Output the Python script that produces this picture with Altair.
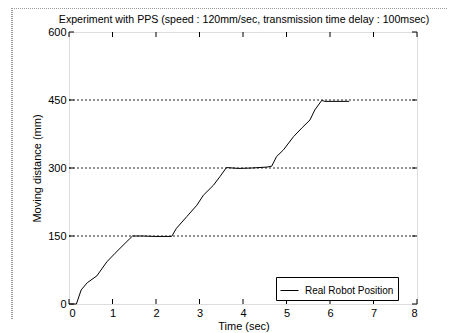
import altair as alt
import pandas as pd

# data
time_s = [0, 0.17, 0.28, 0.42, 0.64, 0.87, 1.06, 1.29, 1.46, 1.7, 1.97, 2.36, 2.47, 2.71, 2.94,
          3.09, 3.32, 3.47, 3.62, 3.9, 4.2, 4.55, 4.66, 4.77, 4.93, 5.16, 5.35, 5.54, 5.65,
          5.81, 5.88, 6.44]
dist_mm = [0, 0, 31, 47, 62, 93, 112, 134, 150, 150, 149, 149, 167, 193, 218,
           240, 262, 281, 301, 299, 300, 302, 304, 325, 340, 369, 388, 406, 428,
           449, 447, 447]
series_name = "Real Robot Position"
title_text = "Experiment with PPS (speed : 120mm/sec, transmission time delay : 100msec)"
x_title = "Time (sec)"
x_ticks = [0, 1, 2, 3, 4, 5, 6, 7, 8]
y_ticks = [0, 150, 300, 450, 600]
grid_vals = [150, 300, 450]

W, H = 348, 272
FONT = "Liberation Sans"

df = pd.DataFrame({"t": time_s, "d": dist_mm, "s": series_name})
xt = pd.DataFrame({"t": x_ticks})
yt = pd.DataFrame({"d": y_ticks})
gv = pd.DataFrame({"d": grid_vals})
tt = pd.DataFrame({"title": [title_text]})
xtt = pd.DataFrame({"title": [x_title]})

xs = alt.Scale(domain=[0, 8], nice=False, zero=False)
ys = alt.Scale(domain=[0, 600], nice=False)

grid = alt.Chart(gv).mark_rule(color="black", strokeDash=[2, 2], strokeWidth=1, opacity=0.85).encode(
    y=alt.Y("d:Q", scale=ys), x=alt.value(0), x2=alt.value(W)
)

line = alt.Chart(df).mark_line(strokeWidth=1).encode(
    x=alt.X("t:Q", scale=xs, title=None,
            axis=alt.Axis(values=x_ticks, ticks=False, grid=False, labelFontSize=11,
                          labelPadding=3, domain=False)),
    y=alt.Y("d:Q", scale=ys, title="Moving distance (mm)",
            axis=alt.Axis(values=y_ticks, ticks=False, grid=False, labelFontSize=11,
                          labelPadding=3, titleFontSize=11, titlePadding=5,
                          titleFontWeight="normal", domain=False)),
    color=alt.Color("s:N", scale=alt.Scale(range=["black"]), title=None,
                    legend=alt.Legend(orient="none", legendX=207, legendY=245,
                                      symbolType="stroke", symbolSize=324,
                                      symbolStrokeWidth=1, labelFontSize=10,
                                      labelOffset=6,
                                      fillColor="white", strokeColor="black",
                                      padding=4, labelFont=FONT)),
)

bx = alt.Chart(xt).mark_rule(color="black").encode(
    x=alt.X("t:Q", scale=xs), y=alt.value(H), y2=alt.value(H - 5))
tx = alt.Chart(xt).mark_rule(color="black").encode(
    x=alt.X("t:Q", scale=xs), y=alt.value(0), y2=alt.value(5))
ly = alt.Chart(yt).mark_rule(color="black").encode(
    y=alt.Y("d:Q", scale=ys), x=alt.value(0), x2=alt.value(5))
ry = alt.Chart(yt).mark_rule(color="black").encode(
    y=alt.Y("d:Q", scale=ys), x=alt.value(W), x2=alt.value(W - 5))

border_top = alt.Chart(xt).mark_rule(color="#999999", strokeDash=[1, 1]).encode(
    x=alt.value(-57), x2=alt.value(W + 40), y=alt.value(-23.5))
border_left = alt.Chart(xt).mark_rule(color="#999999", strokeDash=[1, 1]).encode(
    x=alt.value(-57), y=alt.value(-24), y2=alt.value(H + 16))

title = alt.Chart(tt).mark_text(font=FONT, fontSize=10.6, color="black", baseline="alphabetic",
                                align="center").encode(
    text="title:N", x=alt.value(W / 2 + 1), y=alt.value(-9))

xtitle = alt.Chart(xtt).mark_text(font=FONT, fontSize=11, color="black", baseline="alphabetic",
                                  align="center").encode(
    text="title:N", x=alt.value(W / 2 + 1), y=alt.value(H + 26))

chart = alt.layer(grid, line, bx, tx, ly, ry, border_top, border_left, title, xtitle).properties(
    width=W, height=H,
    autosize=alt.AutoSizeParams(type="none"),
    padding={"left": 61, "top": 24, "right": 30, "bottom": 29},
).configure_view(stroke="black", strokeWidth=1).configure_axis(
    labelFont=FONT, titleFont=FONT, labelColor="black", titleColor="black"
).configure(background="white")

chart.save("out.html", embed_options={"renderer": "svg", "actions": False})
